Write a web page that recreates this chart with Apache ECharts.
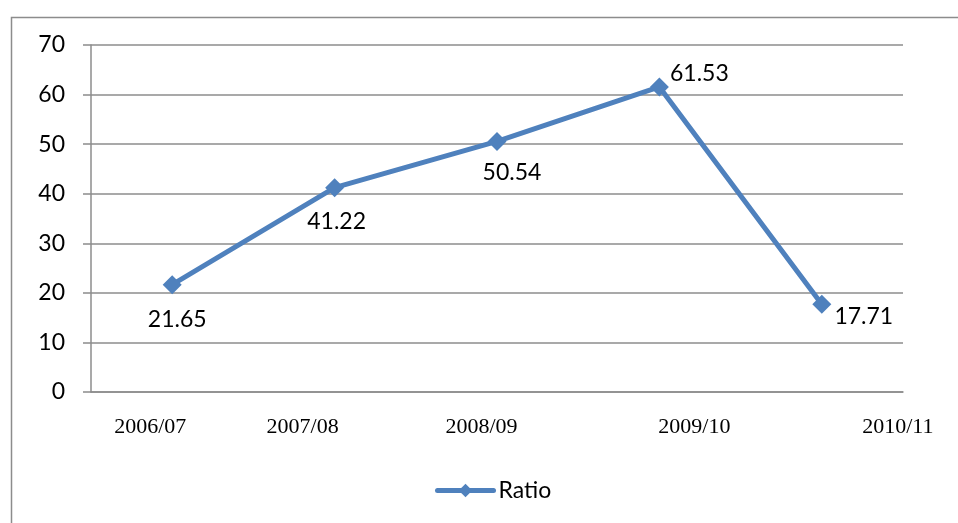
<!DOCTYPE html>
<html>
<head>
<meta charset="utf-8">
<script src="https://cdn.jsdelivr.net/npm/echarts@6/dist/echarts.min.js"></script>
<style>
html,body{margin:0;padding:0;background:#fff;}
#main{width:958px;height:523px;}
</style>
</head>
<body>
<div id="main"></div>
<script>
var categories = ['2006/07', '2007/08', '2008/09', '2009/10', '2010/11'];
var ratioValues = [21.65, 41.22, 50.54, 61.53, 17.71];
var seriesName = 'Ratio';
var yTicks = { min: 0, max: 70, interval: 10 };

// label placement tweaks (styling, not data)
var labelOffsets = [[5, 35], [2, 34], [15, 31], [40, -13], [42, 12]];
var catLabelPad = [[0, 44, 0, 0], [0, 64, 0, 0], [0, 31, 0, 0], [0, 0, 0, 70], [0, 0, 0, 152]];

var rich = {};
catLabelPad.forEach(function (p, i) {
  rich['c' + i] = { padding: p, fontFamily: 'Liberation Serif', fontSize: 22, color: '#000' };
});

var chart = echarts.init(document.getElementById('main'));
chart.setOption({
  animation: false,
  backgroundColor: '#fff',
  graphic: [{
    type: 'rect', left: 9, top: 15,
    shape: { width: 1000, height: 600 },
    style: { fill: 'none', stroke: '#8c8c8c', lineWidth: 1.5 }
  }],
  grid: { left: 91, right: 55, top: 45, bottom: 131 },
  legend: {
    data: [seriesName],
    left: 430, top: 474,
    itemWidth: 56, itemHeight: 17, itemGap: 10,
    lineStyle: { width: 5, cap: 'round' },
    textStyle: { fontFamily: 'Lato', fontSize: 23, color: '#000' }
  },
  xAxis: {
    type: 'category',
    data: categories,
    boundaryGap: true,
    axisLine: { lineStyle: { color: '#8c8c8c', width: 1.5 } },
    axisTick: { show: false },
    axisLabel: {
      interval: 0, margin: 24, hideOverlap: false,
      fontFamily: 'Liberation Serif', fontSize: 22, color: '#000',
      formatter: function (v, i) { return '{c' + i + '|' + v + '}'; },
      rich: rich
    }
  },
  yAxis: {
    type: 'value',
    min: yTicks.min, max: yTicks.max, interval: yTicks.interval,
    axisLine: { show: true, lineStyle: { color: '#8c8c8c', width: 1.5 } },
    axisTick: { show: true, length: 8, lineStyle: { color: '#8c8c8c', width: 1.5 } },
    splitLine: { lineStyle: { color: '#8c8c8c', width: 1.5 } },
    axisLabel: { margin: 26, fontFamily: 'Lato', fontSize: 23, color: '#000' }
  },
  series: [{
    name: seriesName,
    type: 'line',
    data: ratioValues.map(function (v, i) {
      return { value: v, label: { offset: labelOffsets[i] } };
    }),
    symbol: 'diamond',
    symbolSize: 19,
    lineStyle: { color: '#4F81BD', width: 5 },
    itemStyle: { color: '#4F81BD' },
    label: {
      show: true, position: 'inside',
      fontFamily: 'Lato', fontSize: 23, color: '#000',
      formatter: function (p) { return p.value.toFixed(2); }
    }
  }]
});
</script>
</body>
</html>
